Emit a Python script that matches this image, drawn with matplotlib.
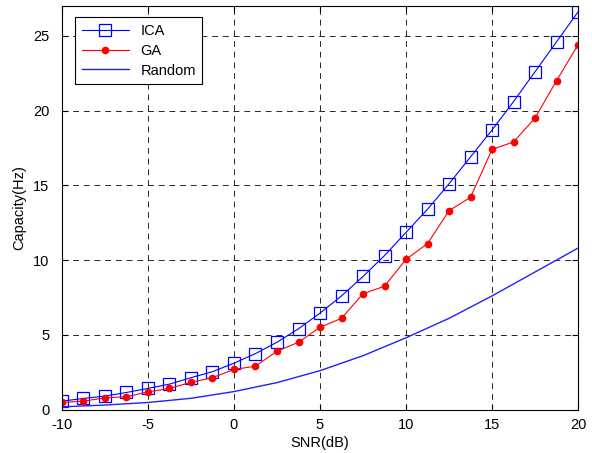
import numpy as np
import matplotlib
matplotlib.use('Agg')
import matplotlib.pyplot as plt

plt.rcParams['font.family'] = ['Liberation Sans', 'DejaVu Sans']
plt.rcParams['axes.unicode_minus'] = False

# SNR grid for ICA / GA markers (dB)
snr = [-10, -8.75, -7.5, -6.25, -5, -3.75, -2.5, -1.25, 0, 1.25, 2.5, 3.75, 5,
       6.25, 7.5, 8.75, 10, 11.25, 12.5, 13.75, 15, 16.25, 17.5, 18.75, 20]

ica = [0.56, 0.74, 0.9, 1.14, 1.41, 1.7, 2.13, 2.53, 3.1, 3.74, 4.5, 5.4, 6.45,
       7.6, 8.9, 10.3, 11.85, 13.4, 15.1, 16.9, 18.7, 20.6, 22.6, 24.6, 26.6]

ga = [0.47, 0.56, 0.78, 0.85, 1.18, 1.41, 1.82, 2.13, 2.68, 2.9, 3.9, 4.5, 5.5,
      6.1, 7.75, 8.25, 10.05, 11.1, 13.3, 14.2, 17.4, 17.9, 19.5, 22.0, 24.4]

# Random baseline, read every 2.5 dB
snr_rand = [-10, -7.5, -5, -2.5, 0, 2.5, 5, 7.5, 10, 12.5, 15, 17.5, 20]
rand_cap = [0.18, 0.3, 0.47, 0.75, 1.2, 1.8, 2.6, 3.6, 4.8, 6.1, 7.6, 9.2, 10.8]

xticks = [-10, -5, 0, 5, 10, 15, 20]
yticks = [0, 5, 10, 15, 20, 25]

fig = plt.figure(figsize=(5.92, 4.53), dpi=100)
ax = fig.add_axes([0.1047, 0.096, 0.8717, 0.8908])

ax.plot(snr, ica, color='#0000ff', lw=0.8, marker='s', markersize=8.5,
        markerfacecolor='none', markeredgecolor='#0000ff', markeredgewidth=0.9,
        label='ICA')
ax.plot(snr, ga, color='#ff0000', lw=0.8, marker='o', markersize=4.5,
        markerfacecolor='#ff0000', markeredgecolor='#ff0000', label='GA')
ax.plot(snr_rand, rand_cap, color='#2020ff', lw=1.0, label='Random')

ax.set_xlim(-10, 20)
ax.set_ylim(0, 27)
ax.set_xticks(xticks)
ax.set_yticks(yticks)
ax.tick_params(direction='in', top=True, right=True, labelsize=10.5, length=4)
ax.tick_params(axis='y', pad=9)
ax.tick_params(axis='x', pad=6)
ax.grid(True, color='black', linestyle=(0, (6, 5)), linewidth=0.7, alpha=0.85)
for s in ax.spines.values():
    s.set_linewidth(0.8)

ax.set_xlabel('SNR(dB)', fontsize=10.5, labelpad=3)
ax.set_ylabel('Capacity(Hz)', fontsize=10.5, labelpad=5)

leg = ax.legend(loc='upper left', fontsize=10.5, fancybox=False, framealpha=1,
                edgecolor='black', handlelength=3.2, borderpad=0.45,
                labelspacing=0.4, bbox_to_anchor=(0.012, 0.99))
leg.get_frame().set_linewidth(0.8)

fig.savefig('out.png', dpi=100)
